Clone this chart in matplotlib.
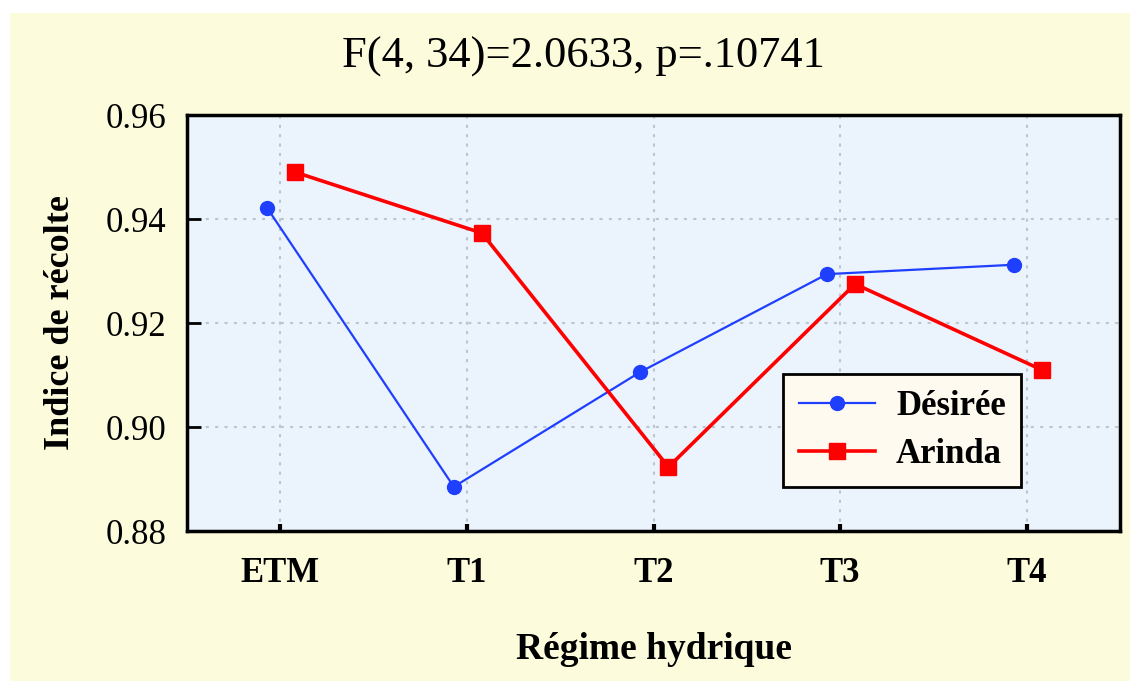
import matplotlib.pyplot as plt
import matplotlib.patches as mpatches
import numpy as np

# harvest index per water regime
regimes = ['ETM', 'T1', 'T2', 'T3', 'T4']
desiree = [0.9421, 0.8885, 0.9106, 0.9294, 0.9312]
arinda = [0.9490, 0.9373, 0.8923, 0.9275, 0.9110]
yticks = [0.88, 0.90, 0.92, 0.94, 0.96]

plt.rcParams['font.family'] = ['Liberation Serif', 'DejaVu Serif']

fig = plt.figure(figsize=(11.3, 6.81), dpi=100, facecolor='white')
# cream panel behind everything
fig.patches.append(mpatches.Rectangle((10 / 1130, 0), 1, (681 - 13) / 681,
                                      transform=fig.transFigure, facecolor='#FCFCDC',
                                      edgecolor='none', zorder=-10))

ax = fig.add_axes([187 / 1130, 150 / 681, 933 / 1130, 416 / 681])
ax.set_facecolor('#EBF3FD')

x = np.arange(len(regimes))
ax.plot(x - 0.07, desiree, color='#1F3FFF', lw=1.6, marker='o', ms=10,
        label='Désirée', zorder=3)
ax.plot(x + 0.08, arinda, color='#FF0000', lw=2.6, marker='s', ms=12,
        label='Arinda', zorder=3)

ax.set_xlim(-0.5, 4.5)
ax.set_ylim(0.88, 0.96)
ax.set_xticks(x)
ax.set_xticklabels(regimes, fontsize=25, fontweight='bold')
ax.set_yticks(yticks)
ax.set_yticklabels([f'{v:.2f}' for v in yticks], fontsize=25)
ax.tick_params(axis='y', direction='in', length=10, width=2, pad=15)
ax.tick_params(axis='x', direction='in', length=5, width=3, pad=19)
ax.grid(True, color='#BCC6CE', linestyle=(0, (1.5, 3)), linewidth=1.5)
ax.set_axisbelow(True)
for s in ax.spines.values():
    s.set_linewidth(2.5)

ax.set_xlabel('Régime hydrique', fontsize=27, fontweight='bold', labelpad=30)
ax.set_ylabel('Indice de récolte', fontsize=26, fontweight='bold', labelpad=20)

fig.text(583 / 1130, 1 - 57 / 681, 'F(4, 34)=2.0633, p=.10741', fontsize=32,
         ha='center', va='center')

leg = ax.legend(loc='lower left', bbox_to_anchor=(0.639, 0.106), borderaxespad=0,
                fancybox=False, framealpha=1, facecolor='#FFFAF0', edgecolor='black',
                prop={'size': 25, 'weight': 'bold'}, handlelength=2.2,
                handletextpad=0.6, borderpad=0.45, labelspacing=0.45)
leg.get_frame().set_linewidth(2)

fig.savefig('out.png', dpi=100, facecolor='white')
